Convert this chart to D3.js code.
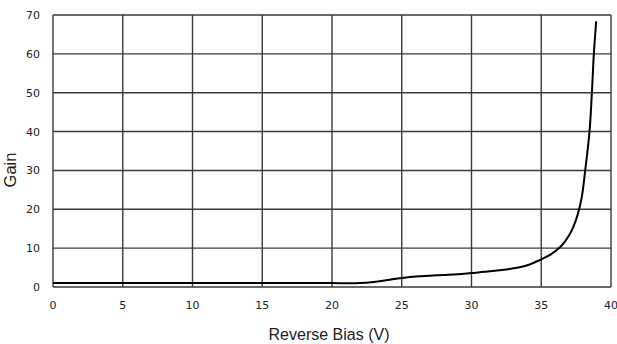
<!DOCTYPE html>
<html><head><meta charset="utf-8">
<script src="https://cdn.jsdelivr.net/npm/d3@7"></script>
<style>body{margin:0;background:#fff}</style>
</head><body>
<svg id="c" width="617" height="344"></svg>
<script>
const bias = [0,5,10,15,20,21,22,23,24,25,26,27,28,29,30,31,32,33,34,35,35.5,36,36.5,37,37.3,37.6,37.9,38.15,38.46,38.63,38.77,38.94];
const gain = [1.0,1.0,1.0,1.0,1.0,0.95,1.0,1.3,1.8,2.3,2.7,2.9,3.1,3.3,3.6,3.9,4.3,4.8,5.6,7.1,8.0,9.2,10.8,13.3,15.5,18.5,23,30,40,50,60,68.4];
const xTicks = [0,5,10,15,20,25,30,35,40];
const yTicks = [0,10,20,30,40,50,60,70];

const svg = d3.select("#c");
const m = {l:53, r:611, t:15, b:287};
const x = d3.scaleLinear().domain([0,40]).range([m.l, m.r]);
const y = d3.scaleLinear().domain([0,70]).range([m.b, m.t]);

const grid = "#3a3a3a";
svg.append("g").selectAll("line").data(xTicks).join("line")
  .attr("x1", d=>x(d)).attr("x2", d=>x(d)).attr("y1", m.t).attr("y2", m.b)
  .attr("stroke", grid).attr("stroke-width", 1.4);
svg.append("g").selectAll("line").data(yTicks).join("line")
  .attr("x1", m.l).attr("x2", m.r).attr("y1", d=>y(d)).attr("y2", d=>y(d))
  .attr("stroke", grid).attr("stroke-width", 1.4);

svg.append("g").selectAll("text").data(yTicks).join("text")
  .attr("x", 40).attr("y", d=>y(d)+4).attr("text-anchor","end")
  .attr("font-family","DejaVu Sans, Verdana, sans-serif").attr("font-size",11).attr("fill","#222")
  .text(d=>d);
svg.append("g").selectAll("text").data(xTicks).join("text")
  .attr("x", d=>x(d)).attr("y", 309).attr("text-anchor","middle")
  .attr("font-family","DejaVu Sans, Verdana, sans-serif").attr("font-size",11).attr("fill","#222")
  .text(d=>d);

svg.append("text").attr("x", 329).attr("y", 340).attr("text-anchor","middle")
  .attr("font-family","Liberation Sans, Arial, sans-serif").attr("font-size",16).attr("fill","#222")
  .text("Reverse Bias (V)");
svg.append("text").attr("transform",`translate(16,170) rotate(-90)`).attr("text-anchor","middle")
  .attr("font-family","Liberation Sans, Arial, sans-serif").attr("font-size",16.5).attr("fill","#222")
  .text("Gain");

const pts = bias.map((b,i)=>[b,gain[i]]);
svg.append("path").datum(pts)
  .attr("d", d3.line().x(d=>x(d[0])).y(d=>y(d[1])).curve(d3.curveCatmullRom.alpha(0.5)))
  .attr("fill","none").attr("stroke","#000").attr("stroke-width",2);
</script>
</body></html>
